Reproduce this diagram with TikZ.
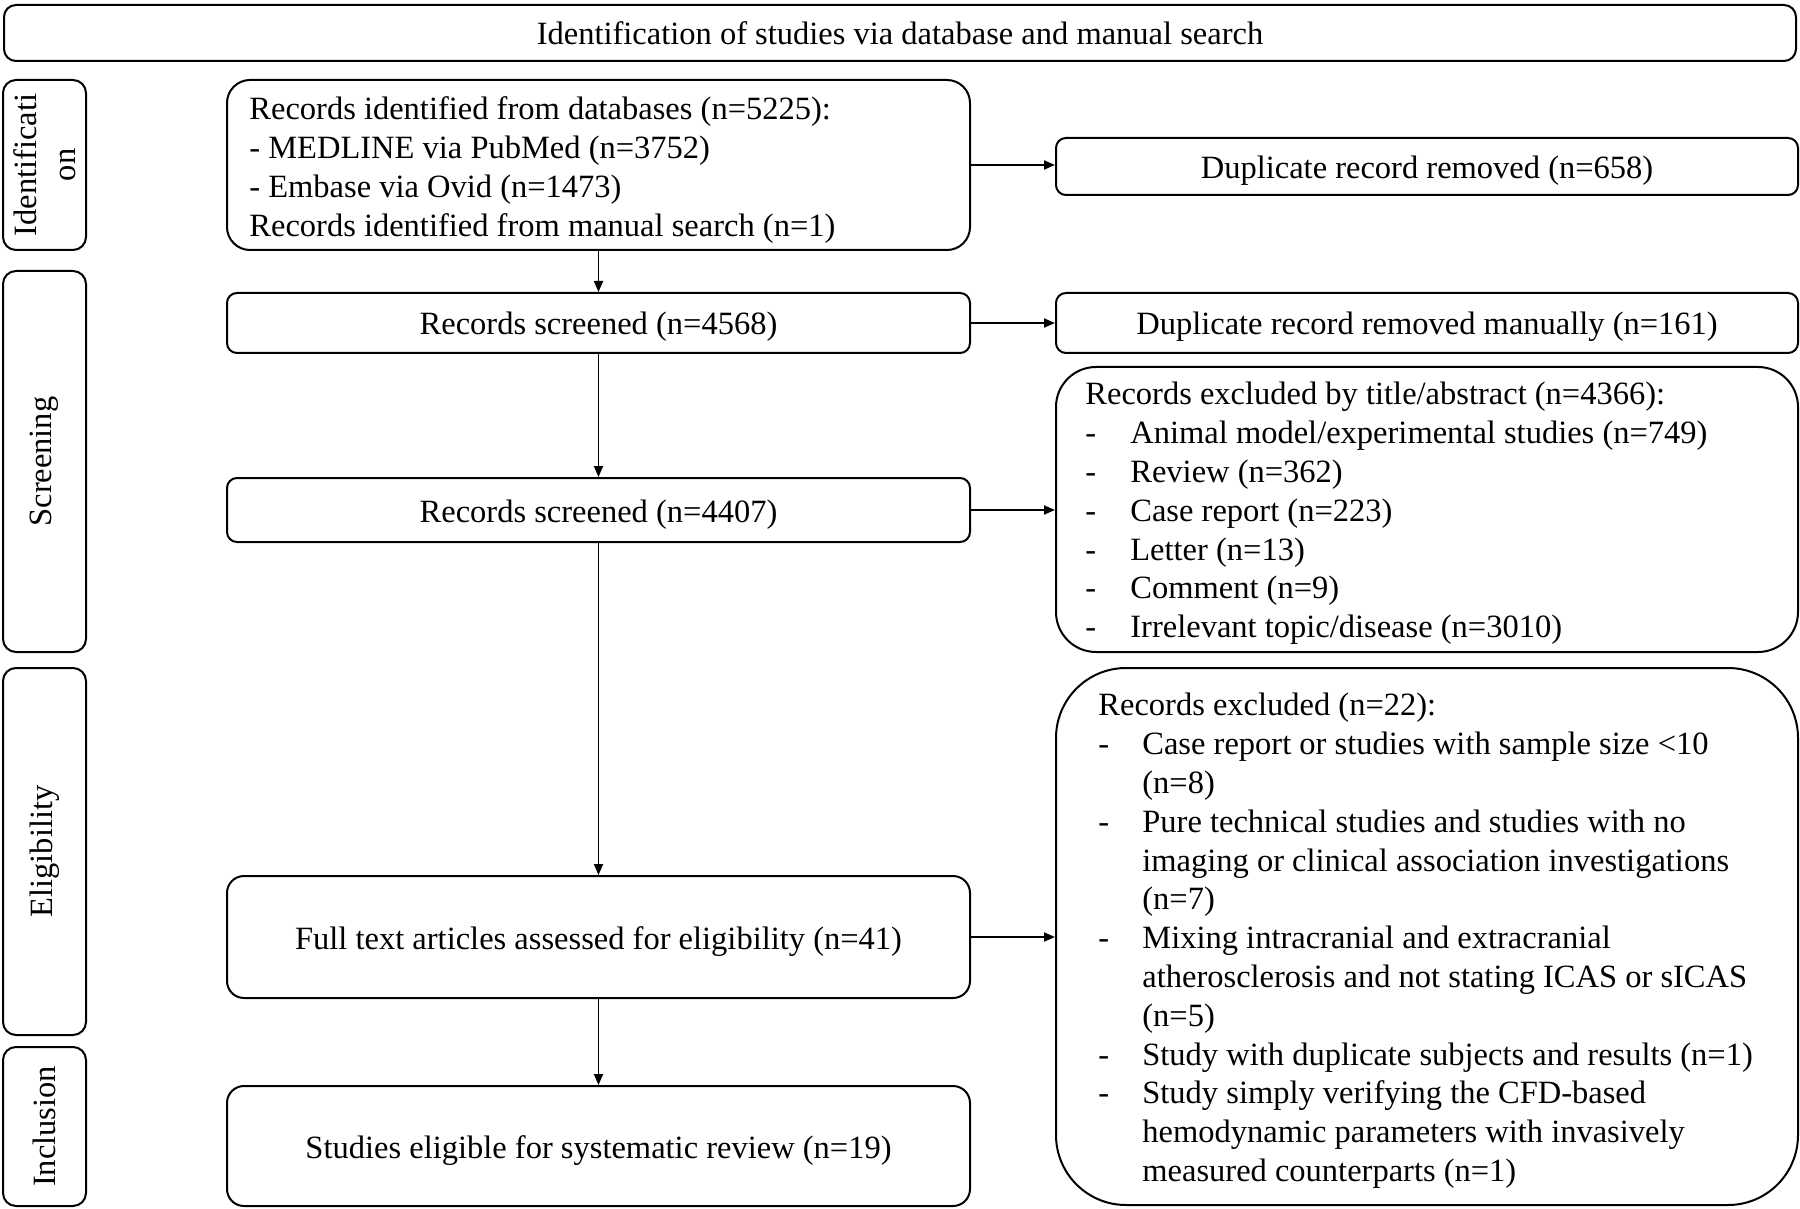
\documentclass[tikz,border=0pt]{standalone}
\usepackage{fontspec}
\setmainfont{Liberation Serif}
\usetikzlibrary{arrows.meta}
\newcommand\bodysize{\fontsize{16.25pt}{19.4pt}\selectfont}
\newcommand\itm[1]{\makebox[#1][l]{-}}
\begin{document}
\begin{tikzpicture}[x=0.5pt,y=-0.5pt,
  every node/.style={font=\bodysize, inner sep=0pt},
  frame/.style={draw, line width=1pt, rounded corners=5pt},
  lbl/.style={frame, rotate=90, minimum height=41.5pt, align=center, rounded corners=6.5pt},
  mainbox/.style={frame, minimum width=371.5pt, text height=13.5pt, text depth=1.5pt},
  sidebox/.style={frame, minimum width=371pt, text height=13.5pt, text depth=1.5pt},
  arr/.style={line width=0.9pt, -{Triangle[length=5.5pt,width=4.5pt]}},
  txt/.style={anchor=west, align=left}]
\useasboundingbox (0,0) rectangle (1800,1209);

% header
\node[frame, rounded corners=6pt, minimum width=896pt, minimum height=28pt] (top) at (900,33) {Identification of studies via database and manual search};

% phase labels
\node[lbl, minimum width=85pt] (lid) at (44.5,165) {Identificati\\on};
\node[lbl, minimum width=190.5pt] (lsc) at (44.5,461.5) {Screening};
\node[lbl, minimum width=183.5pt] (lel) at (44.5,851.5) {Eligibility};
\node[lbl, minimum width=79.5pt] (lin) at (44.5,1126.5) {Inclusion};

% main column
\node[mainbox, minimum height=85pt, rounded corners=11.5pt] (b1) at (598.5,165) {};
\node[txt] (b1t) at ([xshift=11.5pt,yshift=-2.6pt]b1.west) {Records identified from databases (n=5225):\\- MEDLINE via PubMed (n=3752)\\- Embase via Ovid (n=1473)\\Records identified from manual search (n=1)};
\node[mainbox, minimum height=30pt] (b2) at (598.5,323) {Records screened (n=4568)};
\node[mainbox, minimum height=32pt] (b3) at (598.5,510) {Records screened (n=4407)};
\node[mainbox, minimum height=61pt, rounded corners=8.5pt] (b4) at (598.5,937) {Full text articles assessed for eligibility (n=41)};
\node[mainbox, minimum height=60pt, rounded corners=8.5pt] (b5) at (598.5,1146) {Studies eligible for systematic review (n=19)};

% right column
\node[sidebox, minimum height=28.5pt] (d1) at (1427,166.5) {Duplicate record removed (n=658)};
\node[sidebox, minimum height=30pt] (d2) at (1427,323) {Duplicate record removed manually (n=161)};
\node[sidebox, minimum height=142.5pt, rounded corners=20pt] (e1) at (1427,509.5) {};
\node[txt] (e1t) at ([xshift=15pt,yshift=-2pt]e1.west) {Records excluded by title/abstract (n=4366):\\
\itm{22.5pt}Animal model/experimental studies (n=749)\\
\itm{22.5pt}Review (n=362)\\
\itm{22.5pt}Case report (n=223)\\
\itm{22.5pt}Letter (n=13)\\
\itm{22.5pt}Comment (n=9)\\
\itm{22.5pt}Irrelevant topic/disease (n=3010)};
\node[sidebox, minimum height=268.5pt, rounded corners=35pt] (e2) at (1427,936.5) {};
\node[txt] (e2t) at ([xshift=21.5pt,yshift=-2.2pt]e2.west) {Records excluded (n=22):\\
\itm{22pt}Case report or studies with sample size {<}10\\
\makebox[22pt]{}(n=8)\\
\itm{22pt}Pure technical studies and studies with no\\
\makebox[22pt]{}imaging or clinical association investigations\\
\makebox[22pt]{}(n=7)\\
\itm{22pt}Mixing intracranial and extracranial\\
\makebox[22pt]{}atherosclerosis and not stating ICAS or sICAS\\
\makebox[22pt]{}(n=5)\\
\itm{22pt}Study with duplicate subjects and results (n=1)\\
\itm{22pt}Study simply verifying the CFD-based\\
\makebox[22pt]{}hemodynamic parameters with invasively\\
\makebox[22pt]{}measured counterparts (n=1)};

% connectors
\draw[arr] (b1) -- (b2);
\draw[arr] (b2) -- (b3);
\draw[arr] (b3) -- (b4);
\draw[arr] (b4) -- (b5);
\draw[arr] (b1.east) -- (b1.east -| d1.west);
\draw[arr] (b2.east) -- (b2.east -| d2.west);
\draw[arr] (b3.east) -- (b3.east -| e1.west);
\draw[arr] (b4.east) -- (b4.east -| e2.west);
\end{tikzpicture}
\end{document}
